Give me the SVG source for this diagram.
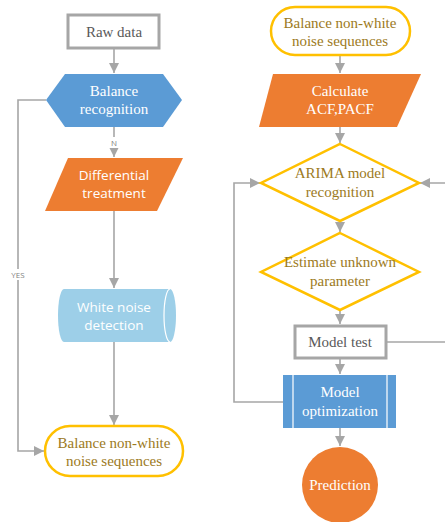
<svg xmlns="http://www.w3.org/2000/svg" width="445" height="522" viewBox="0 0 445 522">
<defs>
<marker id="ah" viewBox="0 0 10 10" refX="10" refY="5" markerWidth="10" markerHeight="10" markerUnits="userSpaceOnUse" orient="auto">
<path d="M0,0 L10,5 L0,10 Z" fill="#a6a6a6"/>
</marker>
<style>
.ln{fill:none;stroke:#a6a6a6;stroke-width:1.6}
.w{fill:#ffffff}
.gold{fill:#9c7a1c}
.grey{fill:#595959}
.term{fill:#ffffff;stroke:#ffc000;stroke-width:2.5}
.dia{fill:#ffffff;stroke:#ffc000;stroke-width:2.5}
.box{fill:#ffffff;stroke:#a6a6a6;stroke-width:3}
</style>
</defs>
<g id="connectors">
<path class="ln" d="M114,48 V73" marker-end="url(#ah)"/>
<path class="ln" d="M114,127 V157" marker-end="url(#ah)"/>
<path class="ln" d="M114,211 V288" marker-end="url(#ah)"/>
<path class="ln" d="M114,342 V425" marker-end="url(#ah)"/>
<path class="ln" d="M46,100 H18 V451 H44" marker-end="url(#ah)"/>
<rect x="8" y="269" width="20" height="11" fill="#ffffff"/>
<text x="18" y="278" font-family="Open Sans, sans-serif" font-size="8" fill="#7f7f7f" text-anchor="middle">YES</text>
<rect x="108" y="137" width="12" height="11" fill="#ffffff"/>
<text x="114" y="146" font-family="Open Sans, sans-serif" font-size="8" fill="#7f7f7f" text-anchor="middle">N</text>
<path class="ln" d="M340,55 V73" marker-end="url(#ah)"/>
<path class="ln" d="M340,127 V143" marker-end="url(#ah)"/>
<path class="ln" d="M340,221 V232" marker-end="url(#ah)"/>
<path class="ln" d="M340,310 V324" marker-end="url(#ah)"/>
<path class="ln" d="M340,358 V374" marker-end="url(#ah)"/>
<path class="ln" d="M340,428 V446" marker-end="url(#ah)"/>
<path class="ln" d="M386,342 H450 V183 H420" marker-end="url(#ah)"/>
<path class="ln" d="M283,402 H234 V183 H260" marker-end="url(#ah)"/>
</g>
<g font-family="Liberation Serif, DejaVu Serif, serif" font-size="15" text-anchor="middle">
<g id="raw-data">
<rect class="box" x="68" y="15" width="91" height="33"/>
<text class="grey" x="114" y="37">Raw data</text>
</g>
<g id="balance-recognition">
<path d="M65,74 H163 L182,100 L163,127 H65 L46,100 Z" fill="#5b9bd5"/>
<text class="w" x="114" y="96">Balance</text>
<text class="w" x="114" y="114">recognition</text>
</g>
<g id="differential-treatment" font-family="Open Sans, Noto Sans, sans-serif" font-size="13.5">
<path d="M68,158 H183 L157,211 H45 Z" fill="#ed7d31"/>
<text class="w" x="114" y="180">Differential</text>
<text class="w" x="114" y="198">treatment</text>
</g>
<g id="white-noise-detection" font-family="Open Sans, Noto Sans, sans-serif" font-size="13.5">
<path d="M64,289 H170 A6,26.5 0 0 1 170,342 H64 A6,26.5 0 0 1 64,289 Z" fill="#9dcfe8"/>
<path d="M170,289 A6,26.5 0 0 0 170,342" fill="none" stroke="#ffffff" stroke-width="1.2"/>
<text class="w" x="114" y="312">White noise</text>
<text class="w" x="114" y="330">detection</text>
</g>
<g id="balance-non-white-left">
<rect class="term" x="45" y="426" width="138" height="50" rx="25"/>
<text class="gold" x="114" y="448">Balance non-white</text>
<text class="gold" x="114" y="466">noise sequences</text>
</g>
<g id="balance-non-white-right">
<rect class="term" x="271" y="7" width="139" height="48" rx="24"/>
<text class="gold" x="340" y="28">Balance non-white</text>
<text class="gold" x="340" y="46">noise sequences</text>
</g>
<g id="calculate-acf">
<path d="M273,74 H421 L397,127 H259 Z" fill="#ed7d31"/>
<text class="w" x="340" y="96">Calculate</text>
<text class="w" x="340" y="114">ACF,PACF</text>
</g>
<g id="arima-recognition">
<path class="dia" d="M340,144 L419,183 L340,221 L261,183 Z"/>
<text class="gold" x="340" y="178">ARIMA model</text>
<text class="gold" x="340" y="197">recognition</text>
</g>
<g id="estimate-parameter">
<path class="dia" d="M340,233 L419,272 L340,310 L261,272 Z"/>
<text class="gold" x="340" y="267">Estimate unknown</text>
<text class="gold" x="340" y="286">parameter</text>
</g>
<g id="model-test">
<rect class="box" x="295" y="326" width="91" height="32"/>
<text class="grey" x="340" y="347">Model test</text>
</g>
<g id="model-optimization">
<rect x="283" y="375" width="113" height="53" fill="#5b9bd5"/>
<path d="M293,375 V428 M387,375 V428" stroke="#ffffff" stroke-width="1.2"/>
<text class="w" x="340" y="397">Model</text>
<text class="w" x="340" y="416">optimization</text>
</g>
<g id="prediction">
<circle cx="340" cy="485" r="38" fill="#ed7d31"/>
<text class="w" x="340" y="490">Prediction</text>
</g>
</g>
</svg>
